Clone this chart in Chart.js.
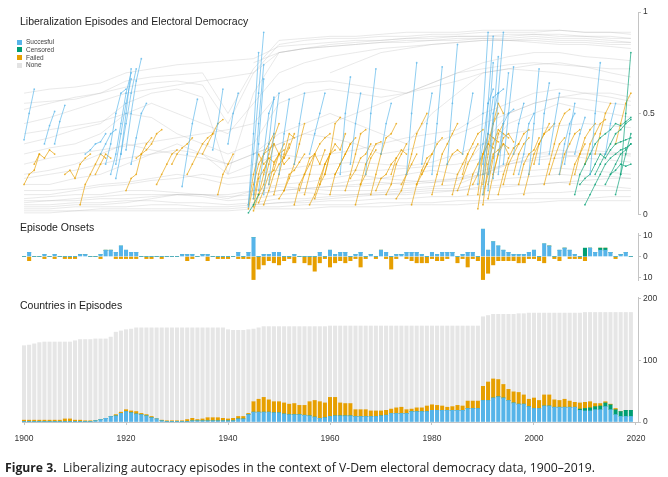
<!DOCTYPE html>
<html>
<head>
<meta charset="utf-8">
<script src="https://cdn.jsdelivr.net/npm/chart.js@4.4.1/dist/chart.umd.min.js"></script>
<style>
body { margin:0; background:#fff; width:668px; height:477px; position:relative; overflow:hidden; font-family:"Liberation Sans", Arial, sans-serif; }
canvas { position:absolute; left:0; }
.title { position:absolute; left:20px; font-size:10.5px; line-height:1; color:#222; white-space:nowrap; }
.leg { position:absolute; left:17px; font-size:6.5px; line-height:7.8px; color:#444; }
.leg div span { display:inline-block; width:5px; height:5px; margin-right:4px; vertical-align:-0.5px; }
.caption { position:absolute; left:5px; top:459px; font-family:"Open Sans", sans-serif; font-size:12.2px; color:#222; white-space:nowrap; }
</style>
</head>
<body>
<canvas id="lines" width="668" height="222" style="top:0"></canvas>
<canvas id="onsets" width="668" height="75" style="top:215px"></canvas>
<canvas id="countries" width="668" height="160" style="top:290px"></canvas>

<div class="title" style="top:16px">Liberalization Episodes and Electoral Democracy</div>
<div class="leg" style="top:38px">
  <div><span style="background:#56B4E9"></span>Succesful</div>
  <div><span style="background:#009E73"></span>Censored</div>
  <div><span style="background:#E69F00"></span>Failed</div>
  <div><span style="background:#e3e3e3"></span>None</div>
</div>
<div class="title" style="top:222px">Episode Onsets</div>
<div class="title" style="top:300px">Countries in Episodes</div>
<div class="caption"><b>Figure 3.</b>&nbsp; Liberalizing autocracy episodes in the context of V-Dem electoral democracy data, 1900–2019.</div>

<script>
// ---- data ----
const firstYear = 1900;
const yearTicks = [1900, 1920, 1940, 1960, 1980, 2000, 2020];

// gray country lines (no episode), sampled every 5 years
const grayYears = [1900,1905,1910,1915,1920,1925,1930,1935,1940,1945,1950,1955,1960,1965,1970,1975,1980,1985,1990,1995,2000,2005,2010,2015,2019];
const grayLines = [
  [.52,.55,.58,.6,.63,.65,.66,.64,.45,.7,.84,.86,.87,.87,.88,.88,.89,.89,.9,.9,.9,.91,.9,.9,.89],
  [.6,.62,.63,.65,.7,.72,.74,.75,.76,.77,.83,.84,.85,.86,.86,.87,.87,.88,.88,.89,.89,.89,.88,.88,.87],
  [.45,.48,.52,.56,.6,.62,.64,.66,.68,.7,.8,.82,.83,.84,.85,.85,.86,.86,.87,.87,.88,.87,.87,.86,.85],
  [.35,.38,.42,.45,.55,.6,.62,.58,.2,.6,.8,.82,.84,.85,.86,.87,.88,.88,.88,.88,.89,.88,.88,.87,.87],
  [null,null,null,null,null,null,null,null,null,.75,.8,.82,.83,.84,.85,.86,.86,.87,.87,.86,.86,.85,.85,.84,.84],
  [.3,.33,.35,.4,.5,.55,.5,.45,.4,.55,.7,.75,.78,.8,.82,.83,.84,.85,.86,.86,.85,.84,.84,.83,.82],
  [.2,.22,.25,.3,.35,.32,.3,.28,.25,.3,.35,.4,.45,.5,.55,.6,.65,.7,.75,.78,.8,.8,.78,.77,.76],
  [.15,.15,.18,.2,.25,.3,.35,.3,.25,.3,.4,.45,.5,.45,.4,.35,.5,.6,.7,.72,.74,.75,.73,.7,.68],
  [.25,.28,.3,.32,.34,.36,.38,.4,.42,.45,.6,.65,.66,.64,.62,.6,.63,.66,.7,.72,.71,.7,.68,.66,.64],
  [.4,.42,.44,.46,.5,.48,.4,.35,.3,.35,.55,.6,.62,.6,.58,.6,.65,.7,.72,.74,.75,.74,.73,.72,.72],
  [null,null,null,null,null,null,null,null,null,null,null,null,.15,.17,.18,.2,.22,.2,.35,.5,.55,.58,.6,.6,.58],
  [null,null,null,null,null,null,null,null,null,null,null,null,null,null,null,null,null,null,.3,.45,.5,.55,.52,.5,.48],
  [.05,.05,.06,.06,.07,.07,.06,.06,.05,.06,.08,.08,.09,.1,.1,.11,.12,.12,.14,.15,.15,.16,.15,.14,.13],
  [.03,.03,.04,.04,.04,.05,.05,.04,.04,.05,.06,.06,.07,.07,.08,.08,.09,.09,.1,.1,.11,.11,.12,.12,.12],
  [.08,.09,.1,.1,.12,.12,.11,.1,.09,.1,.12,.13,.14,.14,.15,.16,.17,.18,.2,.22,.22,.23,.22,.21,.2],
  [.12,.12,.13,.15,.16,.18,.2,.18,.15,.16,.18,.2,.2,.22,.22,.23,.24,.25,.28,.3,.3,.32,.3,.3,.29],
  [.02,.02,.02,.03,.03,.03,.03,.03,.03,.04,.04,.05,.05,.05,.06,.06,.06,.07,.07,.08,.08,.08,.08,.09,.09],
  [.1,.1,.12,.14,.15,.17,.18,.2,.18,.2,.22,.24,.25,.26,.25,.24,.26,.3,.35,.4,.42,.44,.45,.44,.43],
  [.04,.04,.05,.05,.06,.08,.1,.1,.08,.12,.15,.16,.18,.2,.18,.17,.16,.18,.22,.25,.27,.28,.3,.3,.3],
  [null,null,null,null,null,null,null,null,null,.1,.12,.13,.14,.15,.16,.15,.16,.17,.2,.25,.28,.3,.32,.31,.3],
  [.18,.2,.22,.25,.28,.3,.32,.3,.2,.25,.3,.28,.3,.32,.35,.38,.4,.42,.5,.55,.6,.62,.6,.58,.56],
  [.06,.07,.07,.08,.08,.09,.1,.1,.1,.12,.14,.13,.12,.12,.12,.13,.14,.15,.2,.26,.3,.3,.28,.27,.26],
  [null,null,null,null,null,null,null,null,null,.05,.06,.07,.08,.09,.1,.1,.11,.12,.13,.14,.15,.16,.17,.18,.18],
  [null,null,null,null,null,null,null,null,null,null,null,null,.7,.75,.8,.82,.84,.85,.86,.86,.87,.86,.86,.85,.85],
  [.01,.01,.02,.02,.02,.02,.02,.02,.02,.03,.03,.03,.04,.04,.04,.05,.05,.05,.06,.06,.06,.07,.07,.07,.07],
  [.07,.07,.08,.09,.1,.1,.1,.09,.07,.08,.1,.11,.1,.1,.11,.12,.13,.13,.16,.18,.19,.2,.19,.19,.18],
  [.55,.56,.57,.6,.66,.68,.69,.7,.5,.72,.86,.87,.88,.88,.89,.9,.9,.9,.91,.91,.91,.91,.9,.9,.9],
  [null,null,null,null,null,null,null,null,null,.3,.35,.4,.38,.35,.3,.32,.35,.4,.45,.5,.55,.58,.57,.55,.54]
];

// episodes: [start year, yearly values...]
const successEpisodes = [
  [1900,.37,.5,.62],[1904,.35,.44,.51],[1906,.35,.46,.54],[1912,.3,.32,.35,.36,.4],
  [1915,.3,.35,.4,.42],[1916,.25,.35,.5,.6,.62],[1917,.2,.3,.45,.6,.7],[1918,.18,.3,.5,.72],
  [1918,.25,.4,.55,.67],[1919,.3,.45,.6,.72],[1920,.32,.5,.66,.77],[1921,.25,.38,.5,.55],
  [1931,.14,.3,.45,.57],[1937,.32,.45,.62],[1940,.35,.5,.6],[1944,.04,.3,.6,.9],
  [1944,.05,.4,.8],[1945,.08,.45,.74],[1945,.1,.35,.67],[1946,.12,.3,.5,.57],
  [1947,.1,.35,.58],[1948,.15,.4,.6],[1950,.2,.4,.57],[1953,.25,.45,.6],
  [1956,.3,.4,.5,.6],[1962,.2,.5,.68],[1964,.25,.45,.6],[1967,.2,.5,.72],
  [1970,.3,.45,.55],[1975,.2,.5,.75],[1978,.25,.45,.6],[1980,.2,.45,.73],
  [1983,.25,.55,.84],[1986,.3,.45,.6],[1989,.15,.5,.9],[1990,.2,.55,.88],
  [1990,.1,.4,.75],[1991,.12,.45,.78],[1991,.2,.5,.6,.62],[1992,.18,.6,.9],
  [1993,.2,.45,.7],[1994,.25,.5,.73],[1996,.3,.45,.55],[1999,.2,.45,.72],
  [2001,.25,.5,.65],[2003,.3,.45,.6],[2006,.25,.4,.55],[2011,.2,.5,.75],[2014,.3,.45,.55],
  [1989,.2,.35,.55,.62],[1990,.25,.4,.58,.6],[1993,.3,.45,.5,.52],[1997,.2,.3,.45,.5],
  [2005,.2,.35,.45,.5],[2008,.3,.4,.48]
];
const censoredEpisodes = [
  [1944,.01,.05,.1],
  [2008,.1,.2,.25,.3,.35,.38,.4,.42,.45,.44,.46,.48],
  [2009,.15,.18,.2,.25,.3,.28,.32,.35,.36,.37,.38],
  [2010,.05,.1,.15,.2,.25,.28,.3,.32,.33,.35],
  [2012,.2,.25,.3,.35,.4,.42,.45,.47],
  [2014,.15,.2,.25,.3,.32,.35],
  [2015,.2,.22,.25,.24,.25],
  [2016,.1,.2,.3,.4],
  [2017,.2,.5,.8]
];
const failedEpisodes = [
  [1900,.15,.2,.22,.3],[1902,.25,.3,.28,.32,.3],[1908,.2,.22,.18,.25,.28,.3],
  [1911,.05,.15,.2,.25,.3,.28],[1914,.2,.25,.3,.28],[1920,.12,.18,.2,.3,.35,.38],
  [1922,.28,.3,.32,.35,.4,.42],[1926,.15,.2,.25,.3,.32],[1929,.25,.3,.33,.35,.38],
  [1932,.2,.25,.3,.35,.38,.4],[1935,.3,.35,.4,.45,.47],[1938,.1,.2,.25,.3],
  [1944,.03,.15,.25,.3,.35,.4],[1944,.05,.2,.3,.25,.28],[1945,.02,.1,.2,.3,.38,.45],
  [1945,.08,.2,.3,.32,.35],[1946,.1,.15,.25,.35,.3,.32],[1947,.05,.12,.2,.25,.28,.33,.4],
  [1948,.15,.25,.3,.28,.35],[1949,.1,.2,.3,.4,.38],[1951,.12,.18,.25,.35,.45],
  [1953,.05,.15,.2,.25,.3],[1955,.1,.2,.3,.35,.38,.4],[1957,.08,.15,.25,.3],
  [1958,.15,.2,.3,.45,.48],[1960,.1,.2,.25,.3,.35,.38],[1961,.2,.25,.3,.35],
  [1963,.12,.2,.3,.4,.42],[1965,.05,.15,.2,.28,.32],[1966,.15,.25,.3,.35,.36],
  [1968,.1,.2,.3,.38,.4,.45],[1971,.1,.15,.25,.3,.35],[1972,.2,.28,.32,.3],
  [1974,.15,.2,.3,.4,.45,.5],[1976,.05,.15,.2,.25],[1978,.2,.25,.3,.35,.38],
  [1980,.1,.2,.3,.35,.4,.45],[1982,.15,.25,.3,.32,.3],[1984,.1,.2,.25,.3],
  [1986,.2,.3,.35,.4,.42],[1987,.1,.2,.25,.3,.35,.33],[1989,.03,.2,.35,.45,.5],
  [1989,.1,.3,.4,.38,.36],[1990,.05,.25,.35,.42,.4,.38],[1990,.15,.3,.45,.55,.5],
  [1991,.08,.2,.3,.35,.33],[1992,.2,.3,.38,.4,.36],[1994,.15,.25,.3,.35,.4,.42],
  [1996,.2,.3,.35,.38],[1998,.1,.2,.3,.35,.4,.45],[2000,.25,.35,.4,.42,.45],
  [2002,.15,.25,.35,.45,.5,.52],[2005,.2,.3,.35,.4,.42],[2007,.15,.25,.3,.35],
  [2010,.25,.35,.4,.45,.47],[2012,.3,.4,.5,.55],[2016,.35,.45,.55,.6],
  [1945,.04,.18,.22,.28,.26,.3,.35],[1946,.06,.12,.2,.22,.3,.25,.28],[1950,.08,.12,.2,.22,.26,.3],
  [1954,.12,.2,.28,.3,.25,.32],[1956,.05,.1,.18,.25,.3,.32],[1959,.2,.3,.35,.32,.4],
  [1964,.18,.22,.28,.3,.35],[1969,.12,.18,.2,.25,.28],[1973,.08,.12,.2,.25,.3],
  [1977,.15,.22,.28,.3],[1985,.12,.18,.25,.3,.35],[1988,.15,.2,.3,.35],
  [1990,.1,.2,.3,.32,.35,.3],[1991,.15,.28,.4,.45],[1993,.1,.2,.28,.33,.35],
  [1997,.15,.25,.3,.32,.38],[2003,.2,.28,.35,.38],[2008,.2,.3,.38,.42,.45]
];

// episode onsets per year, 1900-2019
const onsetSuccess = [
  0,2,0,0,1,0,1,0,0,0,  0,1,1,0,0,1,3,3,2,5,
  3,2,2,0,0,0,0,0,0,0,  0,1,1,1,0,1,1,0,0,0,
  0,0,2,0,2,9,0,1,1,2,  2,0,0,1,0,0,0,0,2,0,
  3,1,2,2,0,1,2,0,1,0,  3,2,0,1,1,2,2,2,1,0,
  2,1,2,2,2,0,1,2,2,0,  13,3,7,5,3,2,1,1,1,2,
  3,0,6,5,0,3,4,3,1,0,  0,4,2,3,3,2,0,1,2,0
];
const onsetCensored = [
  0,0,0,0,0,0,0,0,0,0,  0,0,0,0,0,0,0,0,0,0,
  0,0,0,0,0,0,0,0,0,0,  0,0,0,0,0,0,0,0,0,0,
  0,0,0,0,0,0,0,0,0,0,  0,0,0,0,0,0,0,0,0,0,
  0,0,0,0,0,0,0,0,0,0,  0,0,0,0,0,0,0,0,0,0,
  0,0,0,0,0,0,0,0,0,0,  0,0,0,0,0,0,0,0,0,0,
  0,0,0,0,0,0,0,0,0,0,  4,0,0,1,1,0,0,0,0,0
];
const onsetFailed = [
  0,2,0,0,1,0,1,0,1,1,  1,0,0,0,0,1,0,0,1,1,
  1,1,1,0,1,1,0,1,0,0,  0,0,2,1,0,0,2,0,1,1,
  1,0,1,1,1,11,6,4,2,3,  4,2,1,3,0,3,4,7,3,1,
  5,3,2,3,2,1,5,1,0,1,  0,1,6,1,0,1,2,3,3,3,
  1,2,2,1,0,3,1,5,1,2,  11,8,4,2,2,2,2,3,3,1,
  1,2,3,0,1,2,0,1,1,1,  2,0,0,0,0,0,1,0,0,0
];

// countries in episodes per year, 1900-2019
const countriesTotal = [
  124,125,127,129,130,130,130,130,130,130,  132,134,134,134,135,135,135,138,146,148,
  150,151,153,153,153,153,153,153,153,153,  153,153,153,153,153,153,153,153,153,153,
  150,149,149,149,150,151,153,155,155,155,  155,155,155,155,155,155,155,155,155,155,
  156,156,156,156,156,156,156,156,156,156,  156,156,156,156,156,156,156,156,156,156,
  156,156,156,156,156,156,156,156,156,156,  171,173,175,175,175,175,175,176,176,177,
  177,177,177,177,177,177,177,177,177,177,  178,178,178,178,178,178,178,178,178,178
];
const countriesSuccess = [
  1,1,1,1,1,1,1,1,1,1,  1,1,1,1,2,4,6,9,10,14,
  17,15,13,12,10,7,5,2,1,1,  1,1,1,2,2,2,2,2,2,2,
  2,2,5,5,12,16,16,16,16,15,  15,13,12,12,12,11,10,8,6,7,
  9,10,10,10,10,9,9,9,9,9,  10,11,14,14,14,14,17,17,17,17,
  19,19,19,19,19,19,19,22,22,22,  35,35,39,41,39,35,31,29,29,25,
  22,22,26,26,24,24,24,24,24,19,  18,18,20,20,25,20,12,9,9,9
];
const countriesCensored = [
  0,0,0,0,0,0,0,0,0,0,  0,0,0,0,0,0,0,0,0,0,
  0,0,0,0,0,0,0,0,0,0,  0,0,0,0,0,0,0,0,0,0,
  0,0,0,0,0,0,0,0,0,0,  0,0,0,0,0,0,0,0,0,0,
  0,0,0,0,0,0,0,0,0,0,  0,0,0,0,0,0,0,0,0,0,
  0,0,0,0,0,0,0,0,0,0,  0,0,0,0,0,0,0,0,0,0,
  0,0,0,0,0,0,0,0,0,2,  4,5,5,6,6,8,8,8,10,10
];
const countriesFailed = [
  2,2,2,2,2,2,2,2,4,4,  2,2,1,1,0,0,0,0,2,2,
  3,3,4,2,2,2,0,1,1,1,  1,1,3,4,2,3,5,5,5,4,
  3,4,4,4,2,17,21,24,20,18,  18,18,17,18,15,16,23,27,27,24,
  31,30,21,20,20,11,11,11,9,9,  8,8,7,9,10,6,4,6,6,9,
  9,8,7,5,6,8,7,12,12,12,  23,30,31,28,22,18,18,19,15,12,
  17,13,18,18,12,11,13,10,8,10,  10,10,5,4,2,1,2,0,0,0
];

// ---- styling ----
const BLUE = '#56B4E9', GREEN = '#009E73', ORANGE = '#E69F00', GRAY = '#e6e6e6';
const AXIS = '#c4c4c4', TICK = '#333';
Chart.defaults.font.family = '"Liberation Sans", Arial, sans-serif';
Chart.defaults.font.size = 8.5;
Chart.defaults.color = TICK;

const xMin = 1899.6, xMax = 2020.4;
function setTicks(vals) { return scale => { scale.ticks = vals.map(v => ({ value: v })); }; }
function rightAxis(min, max, ticks, extra) {
  return Object.assign({
    position: 'right', min: min, max: max,
    afterBuildTicks: setTicks(ticks),
    afterFit: s => { s.width = 30; },
    border: { color: AXIS },
    grid: { drawOnChartArea: false, color: AXIS, tickLength: 3 },
    ticks: { padding: 2, color: TICK, callback: v => String(Math.abs(v)) }
  }, extra || {});
}
const hiddenX = { type: 'linear', min: xMin, max: xMax, display: false, stacked: true, offset: false, grid: { offset: false } };
const baseOpts = {
  responsive: false, animation: false, events: [],
  plugins: { legend: { display: false }, tooltip: { enabled: false } }
};

// ---- top: democracy lines ----
const lineSets = [];
function addEpisodes(list, color) {
  list.forEach(ep => {
    const start = ep[0];
    lineSets.push({
      data: ep.slice(1).map((v, i) => ({ x: start + i, y: v })),
      borderColor: color + 'a8', backgroundColor: color + 'b8',
      borderWidth: 1, pointRadius: 0.9, pointBorderWidth: 0
    });
  });
}
addEpisodes(successEpisodes, BLUE);
addEpisodes(censoredEpisodes, GREEN);
addEpisodes(failedEpisodes, ORANGE);
grayLines.forEach(vals => lineSets.push({
  data: vals.map((v, i) => ({ x: grayYears[i], y: v })),
  borderColor: 'rgba(175,175,175,0.28)', borderWidth: 1, pointRadius: 0
}));

new Chart(document.getElementById('lines'), {
  type: 'line',
  data: { datasets: lineSets },
  options: Object.assign({}, baseOpts, {
    layout: { padding: { top: 12, bottom: 6, left: 22, right: 0 } },
    scales: {
      x: hiddenX,
      y: rightAxis(0, 1, [0, 0.5, 1])
    }
  })
});

// ---- middle: onsets ----
const yearsOf = arr => arr.map((v, i) => ({ x: firstYear + i, y: v }));
const barOpts = { barThickness: 3.4, borderWidth: 0, clip: false, stack: 's' };
new Chart(document.getElementById('onsets'), {
  type: 'bar',
  data: {
    datasets: [
      Object.assign({ data: yearsOf(onsetSuccess), backgroundColor: BLUE }, barOpts),
      Object.assign({ data: yearsOf(onsetCensored), backgroundColor: GREEN }, barOpts),
      Object.assign({ data: yearsOf(onsetFailed.map(v => -v)), backgroundColor: ORANGE }, barOpts)
    ]
  },
  options: Object.assign({}, baseOpts, {
    layout: { padding: { top: 18, bottom: 10, left: 22, right: 0 } },
    scales: {
      x: hiddenX,
      y: rightAxis(-11.2, 11.2, [-10, 0, 10], { stacked: true })
    }
  })
});

// ---- bottom: countries in episodes ----
const countriesNone = countriesTotal.map((t, i) => t - countriesSuccess[i] - countriesCensored[i] - countriesFailed[i]);
new Chart(document.getElementById('countries'), {
  type: 'bar',
  data: {
    datasets: [
      Object.assign({ data: yearsOf(countriesSuccess), backgroundColor: BLUE }, barOpts),
      Object.assign({ data: yearsOf(countriesCensored), backgroundColor: GREEN }, barOpts),
      Object.assign({ data: yearsOf(countriesFailed), backgroundColor: ORANGE }, barOpts),
      Object.assign({ data: yearsOf(countriesNone), backgroundColor: GRAY }, barOpts)
    ]
  },
  options: Object.assign({}, baseOpts, {
    layout: { padding: { top: 3, bottom: 2, left: 22, right: 0 } },
    scales: {
      x: {
        type: 'linear', min: xMin, max: xMax, stacked: true, offset: false,
        afterBuildTicks: setTicks(yearTicks),
        afterFit: s => { s.height = 26; },
        border: { color: AXIS },
        grid: { drawOnChartArea: false, color: AXIS, tickLength: 3, offset: false },
        ticks: { padding: 9, color: TICK, maxRotation: 0, callback: v => String(v) }
      },
      y: rightAxis(0, 203, [0, 100, 200], { stacked: true })
    }
  })
});
</script>
</body>
</html>
